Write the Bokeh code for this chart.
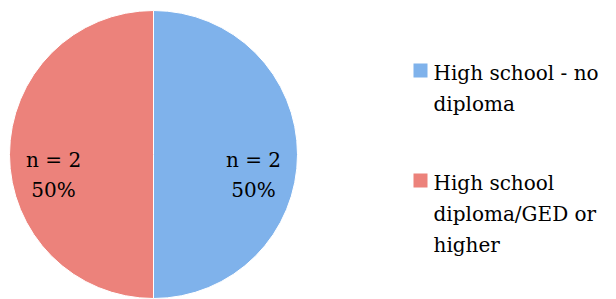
import math
from bokeh.plotting import figure
from bokeh.models import ColumnDataSource, Label
from bokeh.embed import file_html
from bokeh.resources import INLINE

# ---- data ----
categories = ["High school - no diploma", "High school diploma/GED or higher"]
counts = [2, 2]
colors = ["#7fb2eb", "#ec827b"]
legend_lines = [["High school - no", "diploma"],
                ["High school", "diploma/GED or", "higher"]]

W, H = 616, 299
FONT = "DejaVu Serif"
FS = "20px"

p = figure(width=W, height=H, x_range=(0, W), y_range=(0, H),
           output_backend="svg", toolbar_location=None, min_border=0)
p.axis.visible = False
p.grid.visible = False
p.outline_line_color = None
p.background_fill_color = "white"
p.border_fill_color = "white"

cx, cy, r = 153, 145, 144
total = sum(counts)

# wedges: start at 12 o'clock, go clockwise (like Excel)
starts, ends, mids = [], [], []
a = math.pi / 2
for c in counts:
    sweep = 2 * math.pi * c / total
    starts.append(a)
    ends.append(a - sweep)
    mids.append(a - sweep / 2)
    a -= sweep

src = ColumnDataSource(dict(start=starts, end=ends, color=colors))
p.wedge(x=cx, y=cy, radius=r, start_angle="start", end_angle="end",
        direction="clock", fill_color="color", line_color="white",
        line_width=1, source=src)

def add_text(x, y, t, align):
    p.add_layout(Label(x=x, y=y, text=t, text_font=FONT, text_font_size=FS,
                       text_align=align, text_baseline="alphabetic",
                       text_color="black"))

# data labels
lr = 0.694 * r
for c, m in zip(counts, mids):
    x = cx + lr * math.cos(m)
    add_text(x, cy - 5, f"n = {c}", "center")
    add_text(x, cy - 35, f"{round(100 * c / total)}%", "center")

# legend
sq_y = [229, 119]
p.rect(x=[420] * len(categories), y=sq_y, width=14, height=14,
       fill_color=colors, line_color=None)
for i, lines in enumerate(legend_lines):
    for j, t in enumerate(lines):
        add_text(433, sq_y[i] - 2 - 31 * j, t, "left")

open("out.html", "w").write(file_html(p, INLINE))
